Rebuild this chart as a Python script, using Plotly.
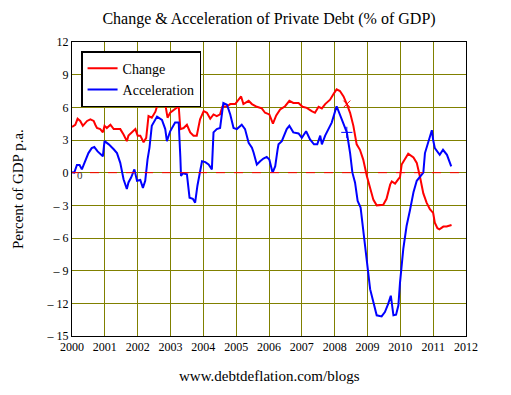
import plotly.graph_objects as go

# ---- data (decimal years, % of GDP) ----
change_x = [2000.00, 2000.10, 2000.17, 2000.25, 2000.33, 2000.46, 2000.56, 2000.66, 2000.71, 2000.76,
            2000.86, 2000.94, 2000.99, 2001.06, 2001.17, 2001.27, 2001.37, 2001.47, 2001.57, 2001.67,
            2001.72, 2001.83, 2001.93, 2002.00, 2002.08, 2002.18, 2002.26, 2002.33, 2002.43, 2002.54,
            2002.59, 2002.69, 2002.77, 2002.84, 2002.91, 2002.99, 2003.14, 2003.25, 2003.30, 2003.40,
            2003.50, 2003.60, 2003.70, 2003.80, 2003.90, 2004.01, 2004.11, 2004.21, 2004.31, 2004.41,
            2004.51, 2004.58, 2004.72, 2004.82, 2004.97, 2005.07, 2005.15, 2005.22, 2005.38, 2005.48,
            2005.63, 2005.78, 2005.88, 2006.01, 2006.12, 2006.22, 2006.34, 2006.49, 2006.62, 2006.74,
            2006.90, 2007.02, 2007.15, 2007.30, 2007.40, 2007.51, 2007.61, 2007.71, 2007.86, 2007.96,
            2008.06, 2008.16, 2008.27, 2008.37, 2008.47, 2008.57, 2008.67, 2008.77, 2008.87, 2008.98,
            2009.08, 2009.18, 2009.28, 2009.38, 2009.48, 2009.58, 2009.69, 2009.74, 2009.84, 2009.94,
            2009.99, 2010.04, 2010.14, 2010.24, 2010.40, 2010.50, 2010.60, 2010.70, 2010.80, 2010.90,
            2011.00, 2011.05, 2011.13, 2011.19, 2011.31, 2011.41, 2011.56]
change_y = [4.2, 4.4, 4.95, 4.75, 4.3, 4.75, 4.9, 4.75, 4.4, 4.1,
            4.0, 3.7, 4.3, 4.1, 4.4, 4.0, 4.0, 4.0, 3.5, 2.9,
            3.4, 3.7, 4.0, 3.4, 3.4, 2.8, 3.2, 5.2, 5.05, 5.6,
            6.1, 6.3, 6.6, 6.3, 5.05, 5.5, 5.8, 6.1, 4.0, 4.1,
            4.4, 3.7, 3.4, 3.4, 4.9, 5.65, 5.5, 4.95, 5.35, 5.2,
            5.35, 6.05, 6.1, 6.3, 6.3, 6.7, 7.0, 6.3, 6.6, 6.3,
            6.05, 5.9, 5.5, 5.35, 4.5, 5.25, 5.8, 6.1, 6.6, 6.4,
            6.4, 6.05, 5.95, 5.65, 5.5, 6.05, 5.9, 6.3, 6.7, 7.2,
            7.65, 7.5, 7.0, 6.3, 5.5, 4.3, 2.6, 2.1, 1.2, -0.3,
            -1.5, -2.5, -3.0, -3.0, -2.95, -2.4, -1.1, -0.8, -1.0, -0.6,
            -0.4, 0.75, 1.2, 1.75, 1.4, 0.9, -0.4, -1.9, -2.75, -3.35,
            -3.7, -4.6, -5.1, -5.2, -4.95, -4.95, -4.8]

accel_x = [2000.00, 2000.07, 2000.15, 2000.23, 2000.30, 2000.41, 2000.50, 2000.60, 2000.68, 2000.78,
           2000.86, 2000.94, 2000.99, 2001.12, 2001.27, 2001.37, 2001.47, 2001.57, 2001.67, 2001.72,
           2001.80, 2001.90, 2001.98, 2002.08, 2002.16, 2002.23, 2002.30, 2002.36, 2002.43, 2002.59,
           2002.74, 2002.84, 2002.89, 2002.99, 2003.14, 2003.25, 2003.30, 2003.32, 2003.38, 2003.50,
           2003.58, 2003.68, 2003.75, 2003.82, 2003.96, 2004.06, 2004.16, 2004.26, 2004.31, 2004.41,
           2004.51, 2004.61, 2004.72, 2004.82, 2004.92, 2005.02, 2005.17, 2005.27, 2005.38, 2005.48,
           2005.53, 2005.58, 2005.63, 2005.73, 2005.83, 2005.93, 2006.01, 2006.11, 2006.19, 2006.26,
           2006.29, 2006.39, 2006.54, 2006.62, 2006.74, 2006.90, 2007.00, 2007.13, 2007.25, 2007.37,
           2007.47, 2007.56, 2007.61, 2007.71, 2007.81, 2007.91, 2008.06, 2008.16, 2008.27, 2008.37,
           2008.47, 2008.54, 2008.62, 2008.70, 2008.79, 2008.87, 2008.98, 2009.08, 2009.18, 2009.28,
           2009.43, 2009.53, 2009.63, 2009.71, 2009.79, 2009.87, 2009.94, 2009.99, 2010.09, 2010.19,
           2010.29, 2010.40, 2010.50, 2010.60, 2010.70, 2010.75, 2010.86, 2010.96, 2011.00, 2011.05,
           2011.20, 2011.30, 2011.42, 2011.55]
accel_y = [0.05, 0.0, 0.7, 0.7, 0.3, 1.2, 1.8, 2.25, 2.35, 1.95,
           1.7, 1.5, 2.9, 2.6, 2.15, 1.8, 0.9, -0.6, -1.5, -0.9,
           -0.45, 0.3, -0.75, -0.67, -1.4, -0.75, 1.2, 2.3, 4.3, 5.15,
           4.85, 4.0, 2.9, 3.8, 4.6, 4.6, 1.4, -0.3, -0.05, -0.15,
           -2.3, -2.4, -2.75, -1.2, 1.05, 0.97, 0.75, 0.3, 3.7, 4.0,
           4.1, 6.4, 6.25, 5.35, 4.1, 4.0, 4.4, 4.0, 2.75, 2.3,
           1.85, 1.25, 0.75, 1.05, 1.3, 1.45, 1.2, 0.0, 0.6, 2.1,
           2.6, 2.9, 4.0, 4.3, 3.7, 3.6, 3.2, 3.8, 3.05, 2.6,
           2.6, 3.4, 2.6, 3.4, 4.0, 4.6, 6.1, 5.3, 4.6, 3.7,
           1.8, 0.0, -0.9, -2.6, -3.2, -5.2, -8.2, -10.7, -11.9, -13.1,
           -13.2, -12.8, -12.05, -11.3, -13.1, -13.05, -12.2, -10.1, -7.0, -4.9,
           -3.5, -1.8, -0.75, -0.4, 0.0, 1.8, 3.0, 3.9, 3.0, 2.25,
           1.64, 2.1, 1.64, 0.57]

year_ticks = list(range(2000, 2013))
y_ticks = [12, 9, 6, 3, 0, -3, -6, -9, -12, -15]
y_labels = ["12", "9", "6", "3", "0", "\u2013 3", "\u2013 6", "\u2013 9", "\u2013 12", "\u2013 15"]

RED = "#ff0000"
BLUE = "#0000ff"
GRID = "#808000"
SERIF = "Liberation Serif"

fig = go.Figure()
fig.add_trace(go.Scatter(x=change_x, y=change_y, mode="lines", name="Change",
                         line=dict(color=RED, width=2)))
fig.add_trace(go.Scatter(x=accel_x, y=accel_y, mode="lines", name="Acceleration",
                         line=dict(color=BLUE, width=2)))

# single trace markers as in the original
ci = 83
ai = 89
fig.add_trace(go.Scatter(x=[change_x[ci]], y=[change_y[ci]], mode="markers", showlegend=False,
                         marker=dict(symbol="x-thin", size=7, line=dict(color=RED, width=1))))
fig.add_trace(go.Scatter(x=[accel_x[ai]], y=[accel_y[ai]], mode="markers", showlegend=False,
                         marker=dict(symbol="cross-thin", size=8, line=dict(color=BLUE, width=1))))

fig.add_shape(type="line", xref="paper", x0=0, x1=1, yref="y", y0=0, y1=0,
              line=dict(color=RED, width=1, dash="dash"), layer="above")

axis_font = dict(family=SERIF, size=12, color="black")

# page has an 8px body margin; figure is sized/offset to compensate
fig.update_layout(
    width=503, height=387,
    margin=dict(l=64, r=45, t=34, b=59, autoexpand=False),
    paper_bgcolor="white", plot_bgcolor="white",
    font=dict(family=SERIF, color="black"),
    title=dict(text="Change &amp; Acceleration of Private Debt (% of GDP)",
               x=0.5, xanchor="center", xref="paper", y=0.974, yanchor="middle", automargin=False,
               font=dict(family=SERIF, size=16, color="black")),
    showlegend=True,
    legend=dict(x=0.023, y=0.969, xanchor="left", yanchor="top",
                bgcolor="white", bordercolor="black", borderwidth=1.5,
                font=dict(family=SERIF, size=14, color="black"),
                tracegroupgap=0, itemwidth=30),
    xaxis=dict(range=[2000, 2012], tickmode="array", tickvals=year_ticks,
               ticktext=[str(y) for y in year_ticks], tickfont=axis_font,
               showgrid=True, gridcolor=GRID, gridwidth=1, zeroline=False,
               showline=True, linecolor="black", linewidth=1, mirror=True,
               ticks="", automargin=False),
    yaxis=dict(range=[-15, 12], tickmode="array", tickvals=y_ticks, ticktext=y_labels,
               tickfont=axis_font, showgrid=True, gridcolor=GRID, gridwidth=1,
               zeroline=False, showline=True, linecolor="black", linewidth=1, mirror=True,
               ticks="", automargin=False),
    yaxis2=dict(range=[-15, 12], overlaying="y", side="right", tickmode="array",
                tickvals=y_ticks, ticktext=y_labels, tickfont=axis_font, automargin=False,
                showgrid=False, zeroline=False, showline=False, ticks=""),
)

fig.add_annotation(text="Percent of GDP p.a.", textangle=-90, x=-0.137, xref="paper",
                   y=0.5, yref="paper", xanchor="center", yanchor="middle", showarrow=False,
                   font=dict(family=SERIF, size=15, color="black"))
fig.add_annotation(text="0", x=change_x[3], y=0, xref="x", yref="y", showarrow=False,
                   font=dict(family=SERIF, size=11, color="#333333"), yshift=-2)
fig.add_annotation(text="www.debtdeflation.com/blogs", x=0.5, xref="paper",
                   y=-0.136, yref="paper", yanchor="middle", showarrow=False,
                   font=dict(family=SERIF, size=15, color="black"))

fig.write_html("out.html")
